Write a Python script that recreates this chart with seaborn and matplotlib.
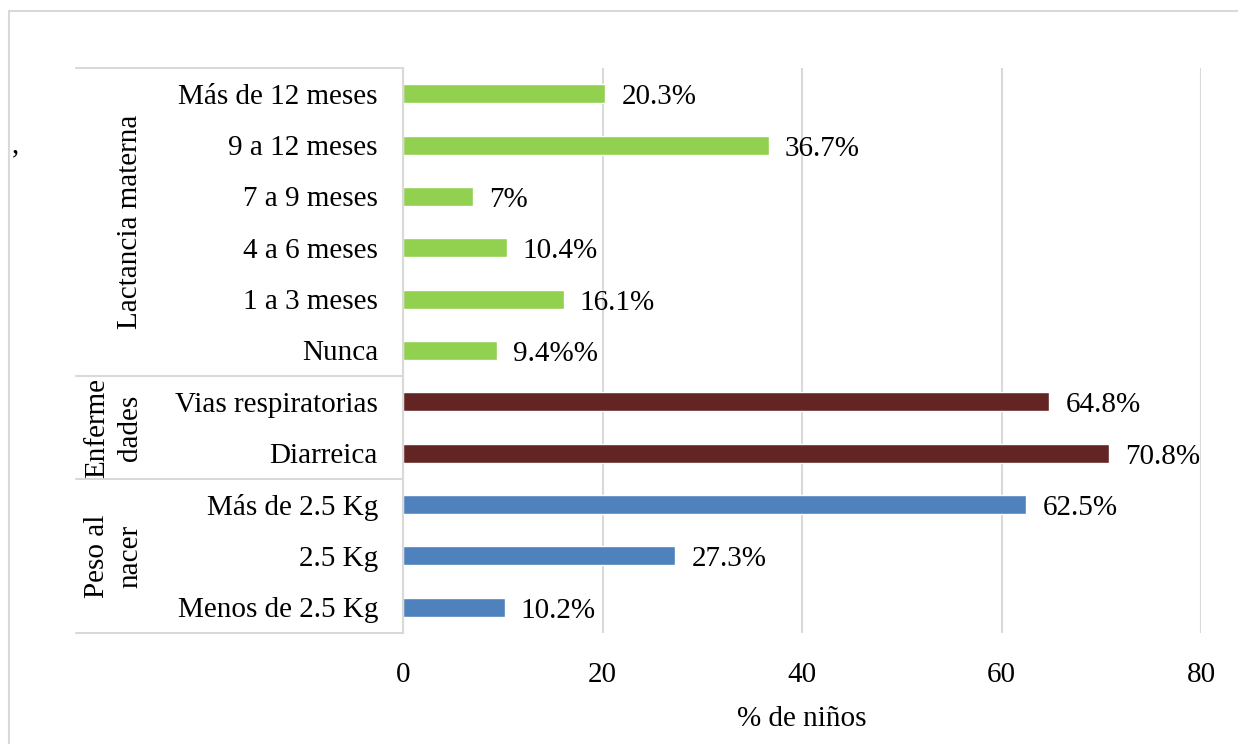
import matplotlib
matplotlib.use("Agg")
import matplotlib.pyplot as plt
import pandas as pd
import seaborn as sns
from matplotlib.patches import Rectangle

sns.set_theme(style="white")
plt.rcParams["font.family"] = ["Liberation Serif", "DejaVu Serif"]
plt.rcParams["text.color"] = "black"
plt.rcParams["xtick.color"] = "black"
plt.rcParams["ytick.color"] = "black"
plt.rcParams["axes.labelcolor"] = "black"

# Data, top to bottom as in the chart
categorias = [
    "Más de 12 meses", "9 a 12 meses", "7 a 9 meses", "4 a 6 meses",
    "1 a 3 meses", "Nunca",
    "Vias respiratorias", "Diarreica",
    "Más de 2.5 Kg", "2.5 Kg", "Menos de 2.5 Kg",
]
valores = [20.3, 36.7, 7, 10.4, 16.1, 9.4, 64.8, 70.8, 62.5, 27.3, 10.2]
etiquetas = ["20.3%", "36.7%", "7%", "10.4%", "16.1%", "9.4%%",
             "64.8%", "70.8%", "62.5%", "27.3%", "10.2%"]
grupos = ["Lactancia materna"] * 6 + ["Enfermedades"] * 2 + ["Peso al nacer"] * 3
grupo_textos = {"Lactancia materna": "Lactancia materna",
                "Enfermedades": "Enferme\ndades",
                "Peso al nacer": "Peso al\nnacer"}
colores = {"Lactancia materna": "#92D050",
           "Enfermedades": "#632523",
           "Peso al nacer": "#4F81BD"}

df = pd.DataFrame({"categoria": categorias, "valor": valores, "grupo": grupos})

W, H = 1238, 744
fig = plt.figure(figsize=(W / 100, H / 100), dpi=100)
ax = fig.add_axes([403 / W, 1 - 633 / H, (1201 - 403) / W, (633 - 68) / H])

sns.barplot(data=df, y="categoria", x="valor", hue="grupo", palette=colores,
            dodge=False, width=0.37, legend=False, ax=ax, saturation=1)

fs = 21
ax.set_xlim(0, 80)
ax.set_ylim(len(categorias) - 0.5, -0.5)
ax.set_xticks([0, 20, 40, 60, 80])
ax.grid(axis="x", color="#D9D9D9", linewidth=1.5)
ax.set_axisbelow(True)
for s in ["top", "right", "bottom"]:
    ax.spines[s].set_visible(False)
ax.spines["left"].set_color("#D9D9D9")
ax.spines["left"].set_linewidth(1.5)
ax.tick_params(axis="y", length=0, pad=18, labelsize=fs)
ax.tick_params(axis="x", length=0, pad=21, labelsize=fs)
ax.set_ylabel("")
ax.set_xlabel("% de niños", fontsize=fs, labelpad=13)

# value labels
for i, (v, t) in enumerate(zip(valores, etiquetas)):
    ax.annotate(t, (v, i), xytext=(11.5, -2.5), textcoords="offset points",
                va="center", ha="left", fontsize=fs)

# group separators and labels on the left
x_left = (76 - 403) / (1201 - 403)
limites = [-0.5]
for i in range(1, len(grupos)):
    if grupos[i] != grupos[i - 1]:
        limites.append(i - 0.5)
limites.append(len(grupos) - 0.5)
for y in limites:
    ax.plot([x_left, 0], [y, y], transform=ax.get_yaxis_transform(),
            color="#D9D9D9", linewidth=1.5, clip_on=False)

orden = list(dict.fromkeys(grupos))
xs = {"Lactancia materna": (130 - 403) / (1201 - 403),
      "Enfermedades": (114 - 403) / (1201 - 403),
      "Peso al nacer": (114 - 403) / (1201 - 403)}
for g, y0, y1 in zip(orden, limites[:-1], limites[1:]):
    ax.text(xs[g], (y0 + y1) / 2, grupo_textos[g], transform=ax.get_yaxis_transform(),
            rotation=90, ha="center", va="center", fontsize=fs, linespacing=1.35)

# stray comma and outer chart border
fig.text(12 / W, 1 - 145 / H, ",", fontsize=fs, ha="left", va="center")
fig.patches.append(Rectangle((9 / W, -0.1), 1.2, 1 - 11 / H + 0.1, transform=fig.transFigure,
                             fill=False, edgecolor="#D9D9D9", linewidth=1.5))

fig.savefig("out.png", dpi=100)
